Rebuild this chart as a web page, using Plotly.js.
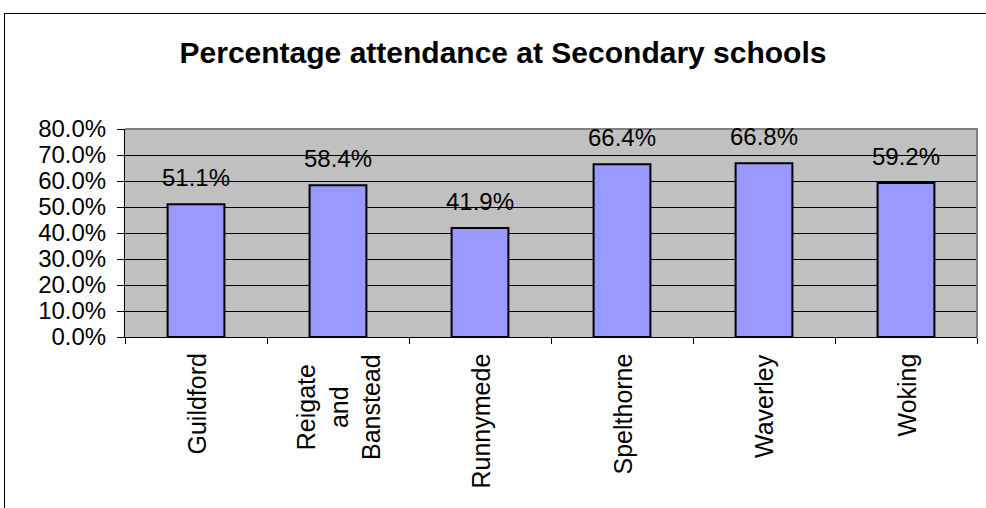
<!DOCTYPE html>
<html>
<head>
<meta charset="utf-8">
<script src="https://cdn.plot.ly/plotly-3.0.1.min.js"></script>
<style>
html,body{margin:0;padding:0;background:#fff;}
#chart{width:986px;height:508px;position:relative;}
#frame{position:absolute;left:4px;top:13px;width:1200px;height:600px;border-left:1px solid #000;border-top:1px solid #000;pointer-events:none;}
</style>
</head>
<body>
<div id="chart"></div>
<div id="frame"></div>
<script>
const categories = ["Guildford", "Reigate<br>and<br>Banstead", "Runnymede", "Spelthorne", "Waverley", "Woking"];
const attendance = [0.511, 0.584, 0.419, 0.664, 0.668, 0.592];
const yTickValues = [0, 0.1, 0.2, 0.3, 0.4, 0.5, 0.6, 0.7, 0.8];

const FONT = "Arial, 'Liberation Sans', sans-serif";

const trace = {
  type: "bar",
  x: categories,
  y: attendance,
  marker: {color: "#9999FF", line: {color: "#000000", width: 2}},
  hoverinfo: "skip"
};

const annotations = [];
categories.forEach((c, i) => {
  annotations.push({
    x: c, y: attendance[i], xref: "x", yref: "y",
    text: (attendance[i] * 100).toFixed(1) + "%",
    showarrow: false, yanchor: "bottom", xanchor: "center", yshift: 11,
    font: {family: FONT, size: 24, color: "#000"}
  });
  annotations.push({
    x: c, y: 0, xref: "x", yref: "paper",
    text: c, textangle: -90, align: "center",
    showarrow: false, yanchor: "top", xanchor: "center", yshift: -15,
    font: {family: FONT, size: 25, color: "#000"}
  });
});

const layout = {
  width: 986, height: 508,
  margin: {l: 125, r: 9, t: 129, b: 171},
  paper_bgcolor: "rgba(0,0,0,0)",
  plot_bgcolor: "#C0C0C0",
  showlegend: false,
  bargap: 0.6,
  title: {
    text: "<b>Percentage attendance at Secondary schools</b>",
    font: {family: FONT, size: 30, color: "#000"},
    x: 503 / 986, xref: "container", xanchor: "center",
    y: 1 - 52 / 508, yref: "container", yanchor: "middle"
  },
  xaxis: {
    type: "category",
    showticklabels: false,
    ticks: "outside", tickson: "boundaries", ticklen: 6, tickcolor: "#000", tickwidth: 1,
    showline: true, linecolor: "#000", linewidth: 1,
    showgrid: false, zeroline: false, fixedrange: true
  },
  yaxis: {
    range: [0, 0.8],
    tickvals: yTickValues,
    tickformat: ".1%",
    ticks: "outside", ticklen: 7, tickcolor: "#000", tickwidth: 1,
    ticklabelstandoff: 6,
    tickfont: {family: FONT, size: 24, color: "#000"},
    showline: true, linecolor: "#000", linewidth: 1,
    showgrid: true, gridcolor: "#000", gridwidth: 1,
    zeroline: false, fixedrange: true
  },
  shapes: [{
    type: "path", xref: "paper", yref: "paper",
    path: "M 0 1 L 1 1 L 1 0",
    line: {color: "#808080", width: 2}, layer: "above"
  }],
  annotations: annotations
};

Plotly.newPlot("chart", [trace], layout, {displayModeBar: false, staticPlot: true});
</script>
</body>
</html>
